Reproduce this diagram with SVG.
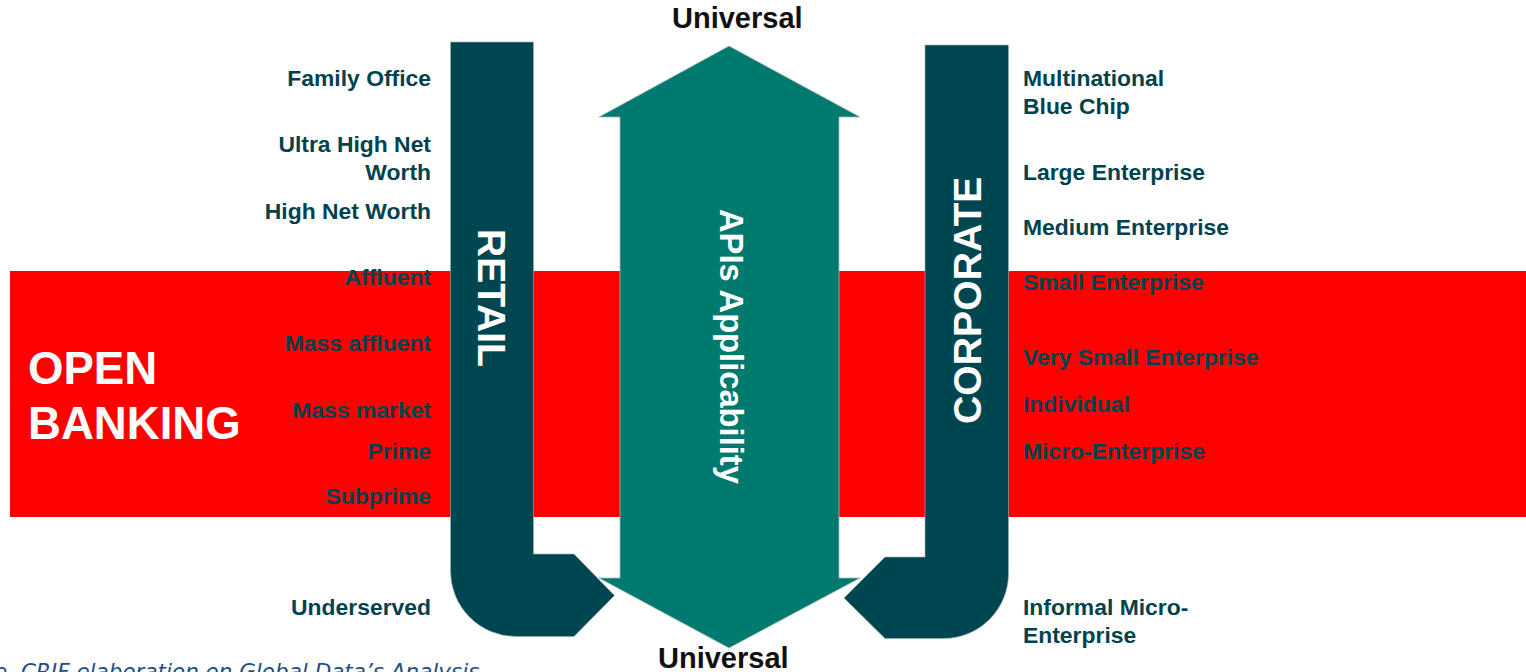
<svg xmlns="http://www.w3.org/2000/svg" width="1526" height="672" viewBox="0 0 1526 672">
<style>
text{font-family:"Liberation Sans",Arial,sans-serif;font-weight:700}
.l{font-size:22.9px;fill:#00424d;text-anchor:end}
.r{font-size:22.9px;fill:#00424d}
.u{font-size:29px;fill:#111}
.w{fill:#fff}
.dark{fill:#004650;stroke:#9db4b8;stroke-width:.6}
</style>
<rect width="1526" height="672" fill="#fff"/>
<g id="open-banking">
<rect x="10" y="271" width="1516" height="246" fill="#f00"/>
<text class="w" font-size="45.6" x="28" y="384">OPEN</text>
<text class="w" font-size="45.6" x="28" y="438.500">BANKING</text>
</g>
<g id="retail">
<path class="dark" d="M450.500 42H533.500V554H574L614.500 595.500L574 636.500H516A65.500 65.500 0 0 1 450.500 571Z"/>
<text class="w" font-size="39" transform="translate(478 229) rotate(90)">RETAIL</text>
</g>
<g id="corporate">
<path class="dark" d="M925 45H1008.500V573A65 65 0 0 1 943.500 638.500H885L844 598L885 557H925Z"/>
<text class="w" font-size="39.2" transform="translate(981 424) rotate(-90)">CORPORATE</text>
</g>
<g id="apis">
<path d="M729 46L860 117H839V578H860L729 648L599 578H620V117H599Z" fill="#00796e" stroke="#a8b8b5" stroke-width=".8"/>
<text class="w" font-size="32.7" transform="translate(720 209) rotate(90)">APIs Applicability</text>
</g>
<g id="connectors"></g>
<g id="labels-retail">
<text class="l" x="431" y="85.500">Family Office</text>
<text class="l" x="431" y="152">Ultra High Net</text>
<text class="l" x="431" y="179.500">Worth</text>
<text class="l" x="431" y="218.500">High Net Worth</text>
<text class="l" x="431" y="284.500">Affluent</text>
<text class="l" x="431" y="350.500">Mass affluent</text>
<text class="l" x="431" y="417.500">Mass market</text>
<text class="l" x="431" y="458.500">Prime</text>
<text class="l" x="431" y="503.500">Subprime</text>
<text class="l" x="431" y="614.500">Underserved</text>
</g>
<g id="labels-corporate">
<text class="r" x="1023" y="85.500">Multinational</text>
<text class="r" x="1023" y="113.500">Blue Chip</text>
<text class="r" x="1023" y="179.500">Large Enterprise</text>
<text class="r" x="1023" y="234.500">Medium Enterprise</text>
<text class="r" x="1023" y="289.500">Small Enterprise</text>
<text class="r" x="1023" y="364.500">Very Small Enterprise</text>
<text class="r" x="1023" y="411.500">Individual</text>
<text class="r" x="1023" y="458.500">Micro-Enterprise</text>
<text class="r" x="1023" y="614.500">Informal Micro-</text>
<text class="r" x="1023" y="642.500">Enterprise</text>
</g>
<g id="universal">
<text class="u" x="672" y="28">Universal</text>
<text class="u" x="658" y="668">Universal</text>
</g>
<text id="source" x="-6" y="679" style="font-family:'DejaVu Sans',sans-serif;font-weight:400;font-style:italic" font-size="21.5" fill="#1f4e86">e. CRIF elaboration on Global Data’s Analysis</text>
</svg>
